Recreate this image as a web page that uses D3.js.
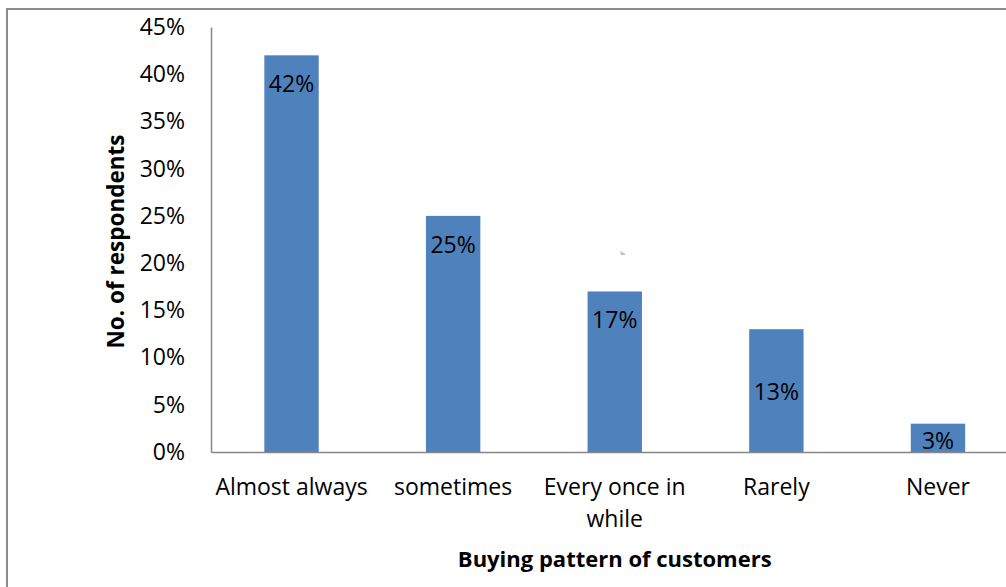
<!DOCTYPE html>
<html>
<head>
<meta charset="utf-8">
<script src="https://cdn.jsdelivr.net/npm/d3@7"></script>
<style>
  html, body { margin: 0; padding: 0; background: #fff; }
  svg { display: block; }
  text { font-family: "Open Sans", "Noto Sans", sans-serif; fill: #000; }
</style>
</head>
<body>
<svg id="chart" width="1006" height="587"></svg>
<script>
// Buying pattern categories and share of respondents (%)
const categories = ["Almost always", "sometimes", "Every once in while", "Rarely", "Never"];
const shares = [42, 25, 17, 13, 3];
const yTicks = [0, 5, 10, 15, 20, 25, 30, 35, 40, 45];
const yTitle = "No. of respondents";
const xTitle = "Buying pattern of customers";

// category labels broken into lines
const categoryLines = {
  "Every once in while": ["Every once in", "while"]
};

// extra vertical shift (px) of individual value labels inside the bars
const labelShift = [0, 0, 0, 34, -12];

const svg = d3.select("#chart");

const plot = { left: 211, right: 1018.5, top: 27, bottom: 452 };
const axisColor = "#868686";
const barColor = "#4F81BD";
const fontSize = 23;

// outer chart frame
svg.append("rect")
  .attr("x", 7).attr("y", 9)
  .attr("width", 1020).attr("height", 600)
  .attr("fill", "none")
  .attr("stroke", "#8c8c8c")
  .attr("stroke-width", 2);

const x = d3.scaleBand()
  .domain(categories)
  .range([plot.left, plot.right])
  .paddingInner(0.6635)
  .paddingOuter(0.33);

const y = d3.scaleLinear()
  .domain([0, 45])
  .range([plot.bottom, plot.top]);

// y axis
const yAxis = svg.append("g")
  .attr("transform", `translate(${plot.left},0)`)
  .call(d3.axisLeft(y).tickValues(yTicks).tickSize(0).tickPadding(26)
    .tickFormat(d => d + "%"));
yAxis.select(".domain").attr("stroke", axisColor).attr("stroke-width", 1.5);
yAxis.selectAll(".tick text")
  .attr("font-size", fontSize)
  .attr("font-family", "\"Open Sans\", sans-serif")
  .attr("fill", "#000");

// bars
svg.append("g").selectAll("rect")
  .data(shares)
  .join("rect")
  .attr("x", (d, i) => x(categories[i]))
  .attr("y", d => y(d))
  .attr("width", x.bandwidth())
  .attr("height", d => y(0) - y(d))
  .attr("fill", barColor);

// x axis line
const xAxis = svg.append("g")
  .attr("transform", `translate(0,${plot.bottom})`)
  .call(d3.axisBottom(x).tickSize(0).tickFormat(""));
xAxis.select(".domain").attr("stroke", axisColor).attr("stroke-width", 1.5);

// category labels
const catG = svg.append("g");
categories.forEach(c => {
  const lines = categoryLines[c] || [c];
  const t = catG.append("text")
    .attr("x", x(c) + x.bandwidth() / 2)
    .attr("y", 495)
    .attr("text-anchor", "middle")
    .attr("font-size", fontSize);
  lines.forEach((ln, k) => {
    t.append("tspan")
      .attr("x", x(c) + x.bandwidth() / 2)
      .attr("dy", k === 0 ? 0 : 32)
      .text(ln);
  });
});

// value labels inside bars
svg.append("g").selectAll("text")
  .data(shares)
  .join("text")
  .attr("x", (d, i) => x(categories[i]) + x.bandwidth() / 2)
  .attr("y", (d, i) => y(d) + 29 + labelShift[i])
  .attr("dy", "0.35em")
  .attr("text-anchor", "middle")
  .attr("font-size", fontSize)
  .text(d => d + "%");

// axis titles
svg.append("text")
  .attr("transform", `translate(124,${(plot.top + plot.bottom) / 2 + 2}) rotate(-90)`)
  .attr("text-anchor", "middle")
  .attr("font-size", 22.5)
  .attr("font-weight", "bold")
  .text(yTitle);

svg.append("text")
  .attr("x", (plot.left + plot.right) / 2)
  .attr("y", 567)
  .attr("text-anchor", "middle")
  .attr("font-size", 22)
  .attr("font-weight", "bold")
  .text(xTitle);

// small grey speck in the plot area
svg.append("path")
  .attr("d", "M620,251 L624,253 L626,255 L621,255 Z")
  .attr("fill", "#b0b0b0")
  .attr("opacity", 0.8);
</script>
</body>
</html>
